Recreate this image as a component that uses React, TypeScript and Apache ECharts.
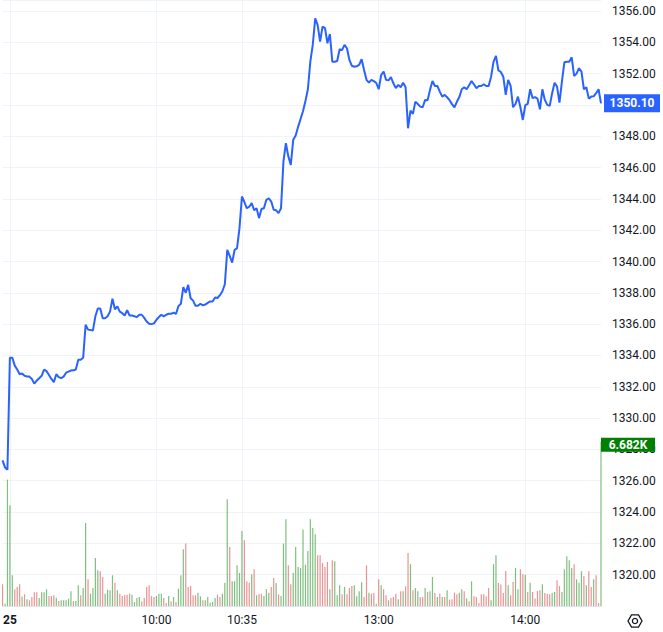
import React, { useEffect, useRef } from "react";
import * as echarts from "echarts";

// minute bars: 3 bars of the previous session, then the session of the 25th
const prevSessionTimes = ["14:58", "14:59", "15:00"];
const sessions: [string, string][] = [
  ["09:00", "11:30"],
  ["13:00", "14:31"],
];

const tickCats = ["09:00", "10:00", "10:35", "13:00", "14:00"];
const tickTexts = ["25", "10:00", "10:35", "13:00", "14:00"];

const prices = [
  1327.30, 1326.85, 1326.70, 1333.85, 1333.85, 1333.35, 1333.10, 1332.80, 1332.85, 1332.70,
  1332.66, 1332.65, 1332.50, 1332.20, 1332.40, 1332.55, 1332.70, 1333.10, 1333.00, 1332.75,
  1332.50, 1332.30, 1332.80, 1332.62, 1332.55, 1332.65, 1332.90, 1332.97, 1333.04, 1333.05,
  1333.10, 1333.72, 1333.72, 1333.85, 1335.96, 1335.65, 1335.62, 1335.60, 1336.50, 1337.00,
  1337.00, 1336.38, 1336.38, 1336.50, 1336.80, 1337.62, 1336.95, 1337.13, 1336.80, 1336.70,
  1336.55, 1336.90, 1336.55, 1336.55, 1336.50, 1336.45, 1336.60, 1336.60, 1336.40, 1336.17,
  1336.03, 1336.00, 1336.05, 1336.28, 1336.45, 1336.60, 1336.50, 1336.60, 1336.66, 1336.66,
  1336.74, 1336.65, 1337.15, 1337.30, 1338.36, 1338.00, 1338.51, 1337.65, 1337.50, 1337.17,
  1337.17, 1337.30, 1337.20, 1337.25, 1337.36, 1337.45, 1337.45, 1337.70, 1337.67, 1337.85,
  1338.10, 1338.55, 1340.74, 1340.36, 1339.93, 1340.74, 1340.85, 1342.13, 1344.15, 1343.80,
  1343.40, 1343.50, 1343.73, 1343.27, 1343.40, 1342.77, 1343.35, 1343.40, 1343.94, 1344.04,
  1343.83, 1343.30, 1343.27, 1343.09, 1343.40, 1346.40, 1347.56, 1346.70, 1346.17, 1347.77,
  1348.05, 1348.60, 1349.10, 1349.60, 1350.25, 1351.00, 1352.76, 1353.83, 1355.53, 1355.10,
  1354.04, 1355.00, 1354.90, 1353.94, 1354.53, 1352.76, 1352.76, 1352.80, 1353.55, 1353.50,
  1353.83, 1353.62, 1352.87, 1352.50, 1352.44, 1352.47, 1352.55, 1352.92, 1352.23, 1351.60,
  1351.42, 1351.60, 1351.52, 1351.40, 1351.00, 1351.91, 1352.13, 1351.60, 1351.57, 1351.77,
  1351.38, 1351.07, 1351.28, 1351.13, 1351.42, 1351.13, 1348.51, 1349.64, 1349.43, 1350.21,
  1350.06, 1349.89, 1349.85, 1350.32, 1350.30, 1350.96, 1351.53, 1351.21, 1351.21, 1350.85,
  1350.53, 1350.64, 1350.49, 1350.30, 1350.05, 1349.85, 1350.20, 1350.50, 1351.00, 1351.13,
  1351.00, 1351.25, 1351.53, 1351.30, 1351.07, 1351.21, 1351.21, 1351.32, 1351.21, 1351.21,
  1351.80, 1352.75, 1353.13, 1352.20, 1352.10, 1351.80, 1350.64, 1351.60, 1351.21, 1349.85,
  1350.06, 1350.53, 1349.85, 1349.04, 1349.98, 1350.06, 1351.00, 1350.43, 1350.50, 1350.40,
  1349.72, 1351.00, 1350.32, 1350.00, 1349.94, 1350.75, 1351.42, 1351.17, 1350.15, 1351.49,
  1352.72, 1352.76, 1352.76, 1353.04, 1351.85, 1352.00, 1352.34, 1352.13, 1351.00, 1351.13,
  1350.40, 1350.53, 1350.55, 1350.75, 1351.00, 1350.10,
];

const volumes = [
  880, 95, 5140, 4100, 1250, 680, 770, 880, 390, 475,
  270, 230, 365, 555, 555, 325, 555, 555, 680, 405,
  405, 435, 340, 205, 230, 230, 230, 300, 600, 205,
  205, 840, 435, 730, 3380, 1085, 500, 730, 1955, 1450,
  1410, 1180, 500, 665, 640, 1250, 950, 640, 500, 405,
  450, 460, 500, 460, 165, 325, 365, 190, 325, 770,
  840, 405, 365, 405, 500, 500, 325, 120, 405, 190,
  365, 165, 705, 1250, 2305, 2540, 770, 815, 435, 435,
  540, 395, 230, 230, 365, 135, 165, 325, 460, 365,
  500, 935, 4340, 2400, 1005, 1005, 1655, 1345, 3050, 2675,
  1005, 950, 1290, 1490, 435, 500, 500, 405, 680, 540,
  770, 1140, 935, 475, 405, 2540, 3530, 1655, 880, 1345,
  2400, 1590, 1545, 3110, 1680, 2240, 3530, 3175, 2920, 2065,
  2065, 1750, 1590, 1790, 680, 1860, 1820, 435, 840, 475,
  775, 475, 730, 815, 840, 395, 600, 965, 365, 1655,
  540, 500, 530, 95, 1085, 840, 680, 435, 230, 325,
  365, 500, 270, 600, 600, 800, 2160, 1700, 640, 730,
  600, 365, 365, 730, 570, 600, 1180, 530, 365, 500,
  365, 365, 640, 260, 270, 540, 475, 540, 680, 600,
  300, 190, 1005, 395, 365, 120, 475, 475, 395, 730,
  230, 1700, 2065, 935, 870, 530, 1425, 840, 435, 975,
  1545, 680, 1490, 1290, 1275, 570, 950, 570, 300, 610,
  640, 880, 530, 500, 475, 530, 570, 1045, 815, 570,
  1490, 2020, 1860, 1545, 1700, 1085, 950, 1410, 1220, 840,
  1410, 770, 1085, 1250, 120, 6682,
];

// G = up bar, R = down bar
const volumeDirections =
  "RGGGGRRRGR" + "GRRRRGGGGR" + "RRGRGGGGGR" + "GGRGGRGGGG" + "RRGGGGRGRR" +
  "RRRGGGGRRR" + "RRRGGGRRGR" + "GRGGGRRRRR" + "GGRGGGGGRR" + "GGGRGGGGGR" +
  "RRGRGRRGGG" + "RRGRGGGRRG" + "GGGGGGGGGR" + "RRRRGRGGGR" + "GRRRGGGGRR" +
  "GRRGRGRRGR" + "RRGRGRRGRG" + "GRRGRGGRGR" + "GRGRRRRGGR" + "GRGRRRRRRR" +
  "GGGRRRRGRR" + "GGRRGRGRRR" + "RGRRRGGRRG" + "GGGGRGGGRG" + "RRGRRG";

function toMin(t: string) {
  const [h, m] = t.split(":").map(Number);
  return h * 60 + m;
}
function fmt(m: number) {
  const h = Math.floor(m / 60);
  const mm = m % 60;
  return String(h).padStart(2, "0") + ":" + String(mm).padStart(2, "0");
}
function buildCategories() {
  const cats = [...prevSessionTimes];
  sessions.forEach(([a, b]) => {
    for (let m = toMin(a); m <= toMin(b); m++) cats.push(fmt(m));
  });
  return cats;
}

const TEXT = "#131722";
const GRID = "#f0f3fa";
const UP = "rgba(0,128,0,0.5)";
const DOWN = "rgba(214,40,40,0.5)";

export default function App() {
  const ref = useRef<HTMLDivElement>(null);
  useEffect(() => {
    if (!ref.current) return;
    const chart = echarts.init(ref.current, undefined, { renderer: "svg" });
    const cats = buildCategories().slice(0, prices.length);
    const last = prices.length - 1;
    const isTick = (_i: number, v: string) => tickCats.indexOf(v) >= 0;
    const font = "Roboto, 'Noto Sans', sans-serif";

    chart.setOption({
      animation: false,
      backgroundColor: "#ffffff",
      textStyle: { fontFamily: font },
      grid: { left: 1, right: 62, top: 0, bottom: 26, containLabel: false },
      xAxis: {
        type: "category",
        data: cats,
        boundaryGap: false,
        axisLine: { show: true, lineStyle: { color: "#e0e3eb", width: 1 } },
        axisTick: { show: false },
        splitLine: { show: true, interval: isTick, lineStyle: { color: GRID, width: 1 } },
        axisLabel: {
          interval: isTick,
          margin: 8,
          fontSize: 12,
          color: TEXT,
          fontFamily: font,
          formatter: (v: string) => {
            const k = tickCats.indexOf(v);
            if (k < 0) return "";
            return k === 0 ? "{b|" + tickTexts[k] + "}" : tickTexts[k];
          },
          rich: { b: { fontWeight: "bold", fontSize: 12, color: TEXT, fontFamily: font } },
        },
      },
      yAxis: [
        {
          type: "value",
          position: "right",
          min: 1318,
          max: 1356.7,
          interval: 2,
          axisLine: { show: false },
          axisTick: { show: false },
          splitLine: { show: true, lineStyle: { color: GRID, width: 1 } },
          axisLabel: {
            margin: 11,
            fontSize: 12,
            color: TEXT,
            fontFamily: font,
            formatter: (v: number) => (v < 1319 || v > 1356.5 ? "" : v.toFixed(2)),
          },
        },
        {
          type: "value",
          min: 0,
          max: 24650,
          show: false,
          splitLine: { show: false },
        },
      ],
      series: [
        {
          type: "bar",
          yAxisIndex: 1,
          barWidth: 1.2,
          z: 1,
          data: volumes.map((v, i) => ({
            value: v,
            itemStyle: { color: volumeDirections[i] === "G" ? UP : DOWN },
          })),
          markPoint: {
            symbol: "rect",
            symbolSize: [54, 14],
            symbolOffset: [27, 3],
            itemStyle: { color: "#008000" },
            label: {
              show: true,
              color: "#ffffff",
              fontSize: 12,
              fontWeight: "bold",
              fontFamily: font,
              formatter: () => (volumes[last] / 1000).toFixed(3) + "K",
            },
            data: [{ coord: [last, volumes[last]] }],
          },
        },
        {
          type: "line",
          data: prices,
          symbol: "none",
          z: 3,
          lineStyle: { color: "#2962ff", width: 2 },
          markPoint: {
            symbol: "rect",
            symbolSize: [56, 18],
            symbolOffset: [31, 0],
            itemStyle: { color: "#2962ff" },
            label: {
              show: true,
              color: "#ffffff",
              fontSize: 12,
              fontWeight: "bold",
              fontFamily: font,
              formatter: () => prices[last].toFixed(2),
            },
            data: [{ coord: [last, prices[last]] }],
          },
        },
      ],
      graphic: [
        {
          type: "polygon",
          shape: {
            points: [
              [642, 621], [638.5, 627.1], [631.5, 627.1],
              [628, 621], [631.5, 614.9], [638.5, 614.9],
            ],
          },
          style: { fill: "none", stroke: TEXT, lineWidth: 1.3 },
        },
        {
          type: "circle",
          shape: { cx: 635, cy: 621, r: 2.6 },
          style: { fill: "none", stroke: TEXT, lineWidth: 1.3 },
        },
      ],
    });
    return () => chart.dispose();
  }, []);

  return (
    <div
      ref={ref}
      style={{ position: "absolute", left: 0, top: 0, width: 663, height: 632 }}
    />
  );
}
